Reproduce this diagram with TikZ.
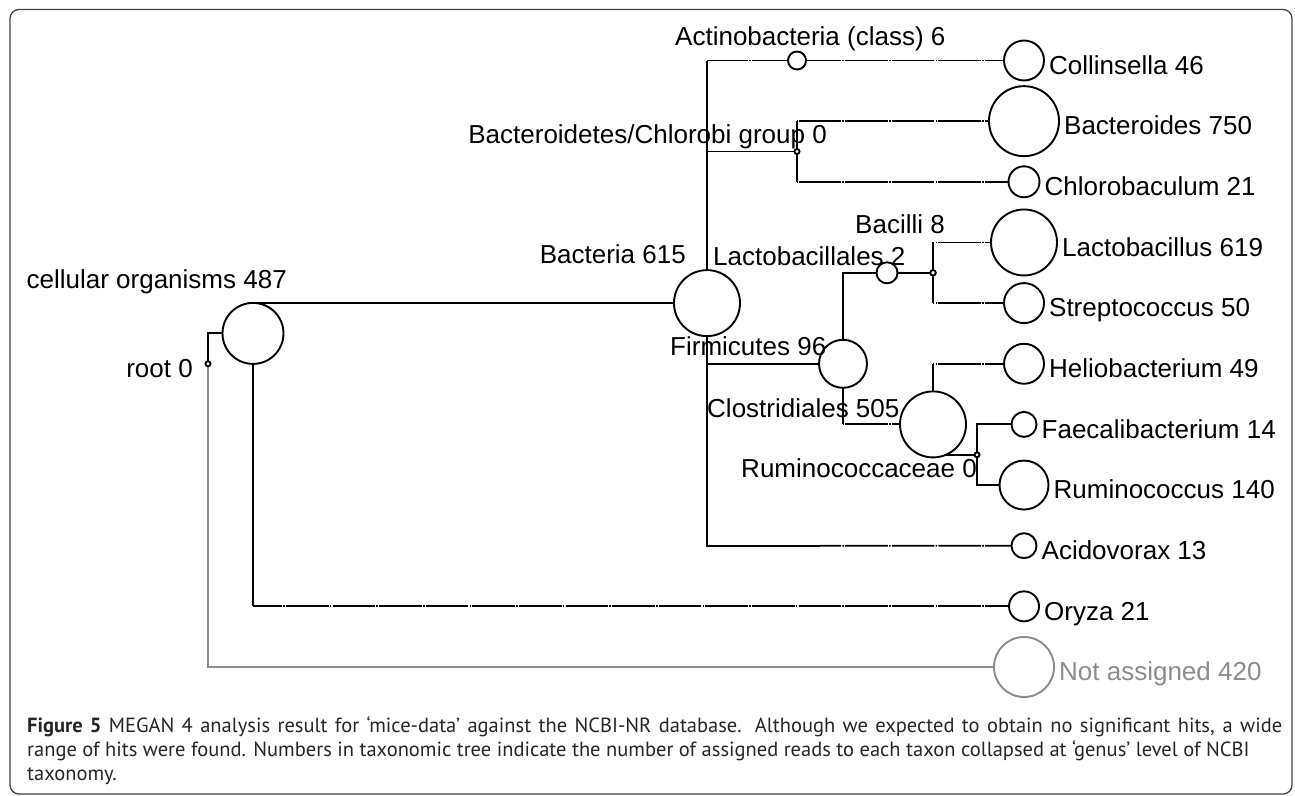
\documentclass[tikz,border=0pt]{standalone}
\usepackage{fontspec}
\setmainfont{Liberation Sans}
\newfontfamily\capfont{PT Sans}
\usetikzlibrary{positioning, backgrounds}
\definecolor{unassigned}{gray}{0.55}
\tikzset{
    taxon/.style = {circle, draw, fill=white, line width=1.9pt, inner sep=0pt, minimum size=#1},
    taxon/.default = 5pt,
    taxlbl/.style = {font=\fontsize{26}{26}\selectfont, inner sep=0pt, text height=18.5pt, text depth=5pt},
    branch/.style = {line width=1.9pt},
    jump/.style = {branch, dash pattern=on 42.6pt off 1.2pt on 1.6pt off 1.2pt, dash phase=#1pt},
    capline/.style = {font=\capfont\fontsize{20.5}{20.5}\selectfont, text=black!85, inner sep=0pt, anchor=base west}
}

\begin{document}
\begin{tikzpicture}[x={(1pt,0pt)}, y={(0pt,-1pt)}]
    \useasboundingbox (0,0) rectangle (1295,795);
    \draw[rounded corners=9pt, line width=1.3pt, black!75] (10,9.5) rectangle (1292,794);

    % inner taxa
    \node[taxon] (root) at (208,363.8) {};
    \node[taxon=61pt] (cellular) at (253,333.4) {};
    \node[taxon=66pt] (bacteria) at (707,303.1) {};
    \node[taxon=18pt] (actino) at (797,60.5) {};
    \node[taxon] (bactgroup) at (797,151.5) {};
    \node[taxon=48pt] (firmicutes) at (843,363.8) {};
    \node[taxon=21pt] (bacilli) at (887,272.8) {};
    \node[taxon=5.5pt] (lactobacillales) at (933,272.8) {};
    \node[taxon=66pt] (clostridiales) at (933,424.4) {};
    \node[taxon] (rumaceae) at (977,454.8) {};

    % leaves, one row each
    \foreach \name/\k/\size/\txt in {collinsella/0/40pt/Collinsella 46, bacteroides/1/70pt/Bacteroides 750,
        chlorobaculum/2/31pt/Chlorobaculum 21, lactobacillus/3/66pt/Lactobacillus 619,
        streptococcus/4/40pt/Streptococcus 50, heliobacterium/5/40pt/Heliobacterium 49,
        faecalibacterium/6/25pt/Faecalibacterium 14, ruminococcus/7/49pt/Ruminococcus 140,
        acidovorax/8/25pt/Acidovorax 13, oryza/9/30pt/Oryza 21}{
        \node[taxon=\size] (\name) at (1024,{60.5+60.65*\k}) {};
        \node[taxlbl, right=4pt of \name, yshift=-7pt] (\name-lbl) {\txt};
    }
    \node[taxon=60pt, draw=unassigned] (unassigned) at (1024,667) {};
    \node[taxlbl, text=unassigned, right=4pt of unassigned, yshift=-7pt] (unassigned-lbl) {Not assigned 420};

    \node[taxlbl, anchor=base east] (root-lbl) at (193,377) {root 0};
    \node[taxlbl, anchor=base east] (cellular-lbl) at (287,288) {cellular organisms 487};
    \node[taxlbl, anchor=base east] (bacteria-lbl) at (686,263) {Bacteria 615};
    \node[taxlbl, anchor=base west] (actino-lbl) at (675,45) {Actinobacteria (class) 6};
    \node[taxlbl, anchor=base east] (bactgroup-lbl) at (827,143) {Bacteroidetes/Chlorobi group 0};
    \node[taxlbl, anchor=base west] (firmicutes-lbl) at (670,355) {Firmicutes 96};
    \node[taxlbl, anchor=base west] (bacilli-lbl) at (855,233) {Bacilli 8};
    \node[taxlbl, anchor=base west] (lactobacillales-lbl) at (713,265) {Lactobacillales 2};
    \node[taxlbl, anchor=base west] (clostridiales-lbl) at (707,417) {Clostridiales 505};
    \node[taxlbl, anchor=base east] (rumaceae-lbl) at (977,477) {Ruminococcaceae 0};

    % tree edges, under the circles
    \begin{pgfonlayer}{background}
        \foreach \a/\b in {root/cellular, cellular/bacteria, bacteria/bactgroup, bacteria/firmicutes,
            firmicutes/bacilli, bacilli/lactobacillales, clostridiales/rumaceae,
            rumaceae/faecalibacterium, rumaceae/ruminococcus}
            \draw[branch] (\a.center) |- (\b.center);
        \draw[branch, unassigned] (root.center) |- (unassigned.center);
        \foreach \a/\b/\ph in {cellular/oryza/13.6, bacteria/actino/1.6, actino/collinsella/45,
            bactgroup/bacteroides/45, bactgroup/chlorobaculum/45, firmicutes/clostridiales/44.4,
            lactobacillales/lactobacillus/41.2, lactobacillales/streptococcus/41.2,
            clostridiales/heliobacterium/41.2}{
            \draw[branch] (\a.center) -- (\a.center |- \b.center);
            \draw[jump=\ph] (\a.center |- \b.center) -- (\b.center);
        }
        \coordinate (acidovorax-mid) at (820,545.7);
        \draw[branch] (bacteria.center) |- (acidovorax-mid);
        \draw[jump=21.4] (acidovorax-mid) -- (acidovorax.center);
    \end{pgfonlayer}

    \node[capline] (caption-a) at (27,732) {\makebox[1255pt][s]{\textbf{Figure 5} MEGAN 4 analysis result for ‘mice-data’ against the NCBI-NR database. Although we expected to obtain no significant hits, a wide}};
    \node[capline] (caption-b) at (27,756) {range of hits were found. Numbers in taxonomic tree indicate the number of assigned reads to each taxon collapsed at ‘genus’ level of NCBI};
    \node[capline] (caption-c) at (27,780) {taxonomy.};
\end{tikzpicture}
\end{document}
